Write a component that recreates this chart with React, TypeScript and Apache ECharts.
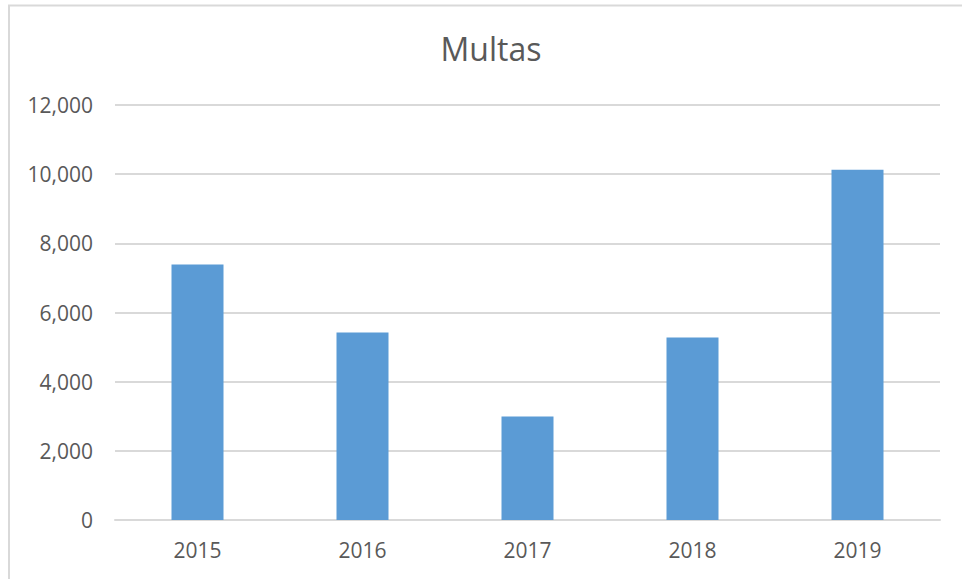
import React, { useEffect, useRef } from "react";
import * as echarts from "echarts";

const title = "Multas";
const categories = ["2015", "2016", "2017", "2018", "2019"];
const values = [7385, 5420, 2990, 5280, 10125];
const yTicks = { min: 0, max: 12000, interval: 2000 };

export default function App() {
  const ref = useRef<HTMLDivElement>(null);
  useEffect(() => {
    document.body.style.margin = "0";
    const chart = echarts.init(ref.current!, null, { renderer: "svg" });
    const font = "'Open Sans', sans-serif";
    chart.setOption({
      animation: false,
      backgroundColor: "#ffffff",
      title: {
        text: title,
        left: 486,
        textAlign: "center",
        top: 27,
        textStyle: { fontFamily: font, fontSize: 32, fontWeight: "normal", color: "#595959" },
      },
      graphic: [
        {
          type: "rect",
          shape: { x: 9, y: 5.5, width: 1000, height: 1000 },
          style: { fill: "none", stroke: "#D9D9D9", lineWidth: 2 },
          silent: true,
        },
      ],
      grid: { left: 115, right: 22, top: 105, bottom: 59, containLabel: false },
      xAxis: {
        type: "category",
        data: categories,
        axisLine: { show: true, lineStyle: { color: "#D9D9D9", width: 2 } },
        axisTick: { show: false },
        axisLabel: { color: "#595959", fontFamily: font, fontSize: 21, margin: 19 },
      },
      yAxis: {
        type: "value",
        min: yTicks.min,
        max: yTicks.max,
        interval: yTicks.interval,
        axisLine: { show: false },
        axisTick: { show: false },
        splitLine: { lineStyle: { color: "#D9D9D9", width: 2 } },
        axisLabel: {
          color: "#595959",
          fontFamily: font,
          fontSize: 21,
          margin: 22,
          formatter: (v: number) => v.toLocaleString("en-US"),
        },
      },
      series: [
        {
          type: "bar",
          data: values,
          barWidth: 52,
          itemStyle: { color: "#5B9BD5" },
        },
      ],
    });
    return () => chart.dispose();
  }, []);
  return <div ref={ref} style={{ width: 962, height: 579 }} />;
}
